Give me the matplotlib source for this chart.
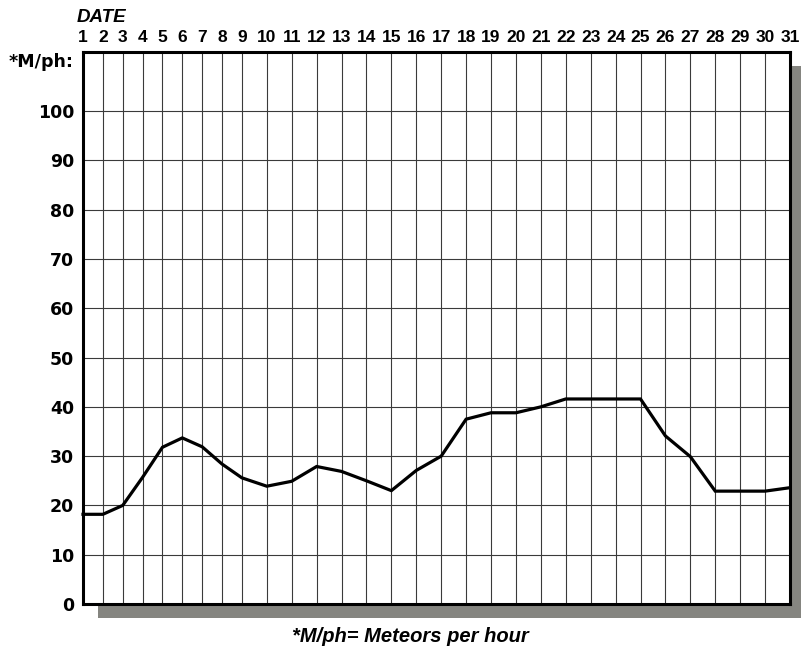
import numpy as np
import matplotlib
matplotlib.use('Agg')
import matplotlib.pyplot as plt
from matplotlib.patches import Rectangle

# meteors per hour for each day of the month
days = list(range(1, 32))
mph = [18.2, 18.2, 20.0, 25.7, 31.8, 33.7, 31.9, 28.4, 25.6, 23.9,
       24.9, 27.9, 26.9, 25.0, 23.0, 27.1, 30.0, 37.5, 38.8, 38.8,
       40.0, 41.6, 41.6, 41.6, 41.6, 34.1, 29.9, 22.9, 22.9, 22.9, 23.6]
y_ticks = list(range(0, 101, 10))

# single digit days get narrower columns than two digit days
NARROW = 0.797


def fwd(d):
    d = np.asarray(d, dtype=float)
    return np.where(d <= 9, (d - 1) * NARROW, 8 * NARROW + (d - 9))


def inv(u):
    u = np.asarray(u, dtype=float)
    return np.where(u <= 8 * NARROW, u / NARROW + 1, u - 8 * NARROW + 9)


plt.rcParams['font.family'] = ['Liberation Sans', 'DejaVu Sans']
plt.rcParams['font.weight'] = 'bold'

W, H = 801, 648
fig = plt.figure(figsize=(W / 100, H / 100), dpi=100)

# drop shadow behind the chart box
fig.patches.append(Rectangle((98 / W, 1 - 618 / H), (W - 98) / W, (618 - 66) / H,
                             transform=fig.transFigure, facecolor='#858580',
                             edgecolor='none', zorder=0))

ax = fig.add_axes([83 / W, 1 - 604 / H, (790 - 83) / W, (604 - 52) / H], zorder=1)
ax.set_facecolor('white')
ax.set_xscale('function', functions=(fwd, inv))
ax.set_xlim(1, 31)
ax.set_ylim(0, 112)

for d in days[1:-1]:
    ax.axvline(d, color='#3a3a3a', lw=0.8, zorder=1)
for v in y_ticks[1:]:
    ax.axhline(v, color='#3a3a3a', lw=0.8, zorder=1)

ax.plot(days, mph, color='black', lw=2.3, solid_joinstyle='miter', zorder=3, clip_on=False)

ax.xaxis.tick_top()
ax.set_xticks(days)
ax.set_xticklabels([str(d) for d in days], fontsize=12.5, fontweight='bold')
ax.tick_params(axis='x', length=0, pad=5)
ax.set_yticks(y_ticks)
ax.set_yticklabels([str(v) for v in y_ticks], family='DejaVu Sans',
                   fontsize=12.5, fontweight='bold')
ax.tick_params(axis='y', length=0, pad=6.5)
ax.minorticks_off()

for s in ax.spines.values():
    s.set_linewidth(2.2)
    s.set_color('black')
    s.set_zorder(4)

fig.text(74 / W, 1 - 62 / H, '*M/ph:', ha='right', va='center', family='DejaVu Sans',
         fontsize=12.5, fontweight='bold')
fig.text(77 / W, 1 - 18 / H, 'DATE', ha='left', va='center', fontsize=13.5,
         fontweight='bold', style='italic')
fig.text(410 / W, 1 - 637 / H, '*M/ph= Meteors per hour', ha='center', va='center',
         fontsize=14.5, fontweight='bold', style='italic')

fig.savefig('out.png', dpi=100)
